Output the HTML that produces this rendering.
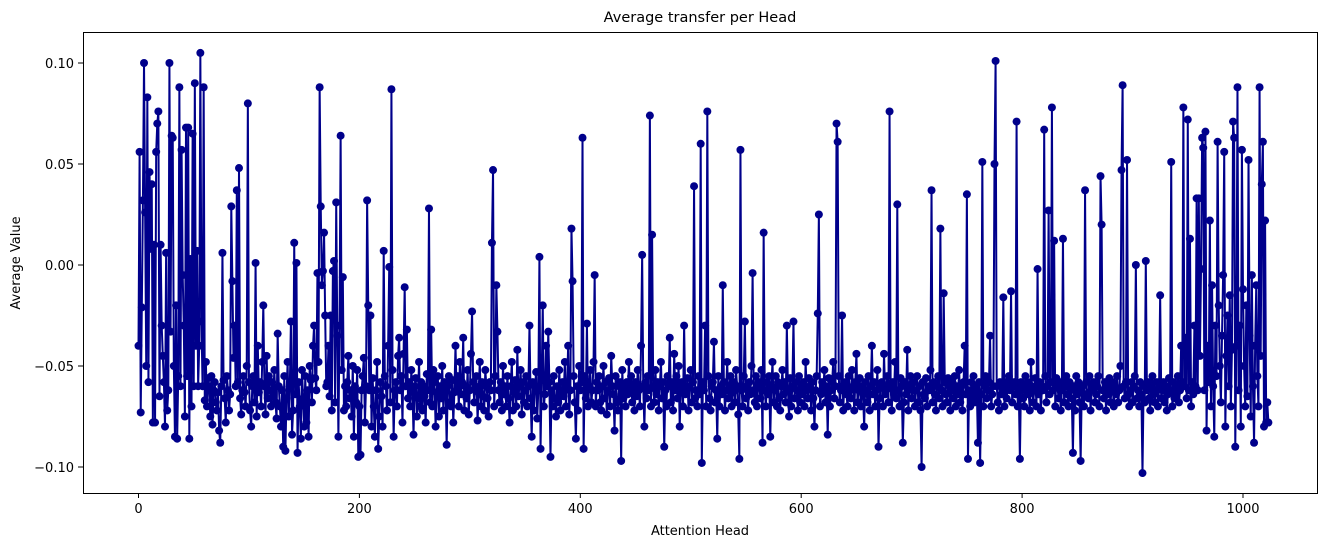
<!DOCTYPE html>
<html><head><meta charset="utf-8"><style>
html,body{margin:0;padding:0;background:#fff;}
svg{display:block;font-family:"DejaVu Sans","Liberation Sans",sans-serif;}
</style></head><body>
<svg id="chart" width="1331" height="547" viewBox="0 0 1331 547" xmlns="http://www.w3.org/2000/svg">
<rect x="0" y="0" width="1331" height="547" fill="#fff"/>
<text x="700" y="22" font-size="14.5" text-anchor="middle" fill="#000">Average transfer per Head</text>
<g id="xticks"></g>
<g id="yticks"></g>
<g id="plot"></g>
<rect x="83.5" y="32.5" width="1234" height="461" fill="none" stroke="#000" stroke-width="1"/>
<text x="700" y="535" font-size="13" text-anchor="middle">Attention Head</text>
<text x="0" y="0" font-size="13" text-anchor="middle" transform="translate(20,263) rotate(-90)">Average Value</text>
</svg>
<script>
const xTicks = [0, 200, 400, 600, 800, 1000];
const yTicks = [0.10, 0.05, 0.00, -0.05, -0.10];
const yTickLabels = ["0.10", "0.05", "0.00", "\u22120.05", "\u22120.10"];
const valuesMilli = [
-40,56,-73,-21,32,100,26,-50,83,-58,46,8,40,-78,10,-78,56,70,76,-65,10,-30,-45,-58,-80,6,-72,-62,100,-33,64,63,
-50,-85,-20,-86,-55,88,-60,57,-5,-30,-75,68,-55,68,-86,3,-70,65,-60,90,-40,7,-60,-40,105,-28,-60,88,-67,-48,-70,-56,
-60,-75,-55,-79,-62,-58,-68,-72,-63,-82,-88,-60,6,-57,-66,-78,-55,-62,-72,-64,29,-8,-46,-30,-60,37,-58,48,-66,-74,-62,-55,
-63,-70,-50,80,-58,-72,-80,-60,-55,-68,1,-75,-40,-63,-58,-70,-48,-20,-60,-74,-45,-66,-55,-62,-70,-58,-65,-52,-68,-76,-34,-60,
-70,-80,-62,-90,-55,-92,-66,-48,-75,-60,-28,-84,-72,11,-64,1,-93,-58,-70,-86,-52,-66,-80,-55,-78,-62,-85,-50,-57,-68,-40,-30,
-56,-62,-4,-48,88,29,-10,-3,16,-25,-60,-58,-40,-65,-25,-72,-3,2,-68,31,-35,-85,-30,64,-52,-6,-72,-60,-70,-58,-45,-66,
-62,-75,-50,-85,-60,-68,-52,-95,-70,-94,-62,-55,-46,-78,-60,32,-20,-62,-25,-80,-56,-70,-85,-62,-48,-91,-75,-58,-65,-80,7,-55,
-60,-72,-40,-1,-68,87,-52,-85,-62,-58,-70,-45,-36,-62,-55,-78,-44,-11,-60,-32,-66,-58,-70,-52,-62,-84,-60,-56,-75,-66,-48,-70,
-58,-72,-60,-65,-78,-54,-62,28,-68,-32,-70,-52,-58,-80,-63,-55,-75,-60,-66,-50,-72,-58,-62,-89,-60,-55,-68,-70,-57,-78,-63,-40,
-62,-55,-70,-48,-64,-58,-36,-72,-60,-66,-52,-74,-62,-44,-23,-58,-68,-60,-55,-77,-63,-48,-70,-58,-65,-72,-52,-60,-66,-75,-58,-62,
11,47,-70,-55,-10,-33,-62,-68,-58,-72,-50,-64,-60,-70,-55,-66,-78,-60,-48,-72,-63,-57,-70,-42,-65,-60,-52,-74,-58,-68,-62,-55,
-70,-60,-30,-66,-85,-58,-72,-60,-53,-76,-62,4,-91,-57,-20,-70,-64,-40,-60,-33,-58,-95,-62,-70,-55,-66,-75,-60,-68,-52,-72,-62,
-58,-65,-48,-70,-60,-40,-74,-62,18,-8,-55,-68,-86,-60,-72,-50,-62,-58,63,-91,-55,-66,-29,-70,-60,-52,-68,-62,-48,-5,-70,-58,
-62,-55,-68,-72,-60,-50,-66,-58,-74,-62,-56,-70,-45,-60,-64,-82,-55,-68,-72,-60,-58,-97,-52,-66,-60,-70,-58,-64,-48,-62,-55,-68,
-60,-72,-58,-65,-52,-62,-70,-40,5,-60,-80,-58,-66,-55,-62,74,-70,15,-60,-68,-52,-64,-58,-72,-60,-48,-66,-58,-90,-62,-70,-55,
-60,-36,-68,-58,-72,-44,-62,-55,-66,-50,-80,-60,-58,-70,-30,-64,-62,-56,-72,-60,-52,-68,-58,39,-66,-62,-70,-55,-64,60,-98,-58,
-62,-30,-70,76,-55,-66,-72,-60,-58,-38,-68,-62,-86,-55,-70,-60,-64,-10,-58,-72,-62,-48,-66,-60,-55,-70,-63,-58,-68,-52,-60,-74,
-96,57,-62,-70,-55,-28,-66,-60,-72,-58,-64,-50,-4,-62,-68,-55,-70,-60,-58,-66,-52,-88,16,-62,-70,-58,-64,-55,-85,-60,-48,-68,
-62,-55,-70,-58,-66,-72,-60,-52,-64,-58,-68,-30,-62,-75,-56,-70,-60,-28,-66,-58,-62,-72,-55,-68,-60,-64,-58,-70,-48,-62,-66,-56,
-60,-72,-58,-66,-80,-62,-55,-24,25,-70,-64,-58,-62,-52,-68,-60,-84,-56,-70,-62,-58,-48,-66,-60,70,61,-55,-68,-62,-25,-72,-60,
-58,-64,-70,-55,-62,-66,-52,-60,-72,-58,-44,-68,-62,-56,-70,-60,-64,-80,-58,-62,-68,-55,-72,-60,-40,-64,-58,-70,-62,-52,-90,-66,
-60,-58,-70,-44,-64,-62,-55,-68,76,-60,-72,-58,-64,-48,-66,30,-62,-70,-56,-60,-88,-68,-58,-64,-42,-72,-60,-55,-66,-62,-58,-70,
-62,-55,-68,-60,-72,-100,-58,-64,-66,-56,-70,-60,-62,-52,37,-68,-58,-64,-72,-60,-55,-66,18,-62,-70,-14,-58,-64,-68,-56,-60,-72,
-62,-58,-66,-55,-70,-60,-64,-52,-68,-60,-72,-58,-40,-64,35,-96,-62,-70,-58,-66,-55,-68,-60,-62,-88,-58,-98,-64,51,-70,-60,-55,
-66,-62,-58,-35,-70,-64,-60,50,101,-60,-68,-72,-58,-64,-62,-16,-70,-58,-66,-60,-55,-62,-13,-68,-60,-58,-64,71,-70,-62,-96,-58,
-60,-66,-70,-55,-62,-58,-64,-72,-48,-60,-68,-62,-56,-70,-2,-64,-58,-72,-60,-62,67,-55,-68,-60,27,-64,-58,78,-62,12,-70,-56,
-60,-66,-58,-72,-62,13,-68,-60,-55,-64,-70,-58,-62,-66,-93,-60,-72,-55,-64,-58,-68,-97,-62,-60,-70,37,-58,-64,-66,-55,-72,-60,
-62,-58,-68,-64,-60,-55,-70,44,20,-62,-66,-58,-72,-60,-64,-56,-68,-62,-58,-70,-60,-64,-55,-68,-62,-50,47,89,-60,-66,-58,52,
-64,-70,-62,-58,-68,-60,-55,0,-66,-62,-70,-58,-64,-103,-60,-68,2,-62,-58,-66,-72,-60,-55,-64,-68,-62,-58,-70,-60,-15,-66,-62,
-58,-68,-60,-72,-64,-56,-62,51,-70,-58,-66,-60,-64,-55,-68,-62,-40,-58,78,-60,-36,-66,72,-62,13,-70,-58,-64,-30,-60,33,-62,
33,-45,-2,63,58,-62,66,-82,-40,-58,22,-70,-10,-60,-85,-30,-55,61,-20,-50,-68,-35,-5,56,-80,-45,-25,-60,-15,-70,-42,71,
63,-90,-40,88,-62,-30,-80,57,-12,-50,-70,-20,-65,52,-35,-75,-5,-60,-88,-40,-10,-55,-70,88,-45,40,61,-80,22,-78,-68,-78
];
const NS = "http://www.w3.org/2000/svg";
const xScale = v => 138.5 + v * 1.1045;
const yScale = v => 265 - v * 2020;
const xg = document.getElementById('xticks');
xTicks.forEach(t => {
  const x = xScale(t);
  const l = document.createElementNS(NS, 'line');
  
  
  l.setAttribute('x1', x); l.setAttribute('x2', x); l.setAttribute('y1', 493); l.setAttribute('y2', 498);
  l.setAttribute('stroke', '#000'); xg.appendChild(l);
  const tx = document.createElementNS(NS, 'text');
  
  
  tx.setAttribute('x', x); tx.setAttribute('y', 513); tx.setAttribute('font-size', '13');
  tx.setAttribute('text-anchor', 'middle'); tx.textContent = String(t); xg.appendChild(tx);
});
const yg = document.getElementById('yticks');
yTicks.forEach((t, i) => {
  const y = yScale(t);
  const l = document.createElementNS(NS, 'line');
  
  
  l.setAttribute('x1', 78); l.setAttribute('x2', 83); l.setAttribute('y1', y); l.setAttribute('y2', y);
  l.setAttribute('stroke', '#000'); yg.appendChild(l);
  const tx = document.createElementNS(NS, 'text');
  
  
  tx.setAttribute('x', 74); tx.setAttribute('y', y + 5); tx.setAttribute('font-size', '13');
  tx.setAttribute('text-anchor', 'end'); tx.textContent = yTickLabels[i]; yg.appendChild(tx);
});
const pg = document.getElementById('plot');
const pts = valuesMilli.map((v, i) => xScale(i).toFixed(2) + ',' + yScale(v / 1000).toFixed(2));
const line = document.createElementNS(NS, 'polyline');


line.setAttribute('points', pts.join(' '));
line.setAttribute('fill', 'none'); line.setAttribute('stroke', '#00008b');
line.setAttribute('stroke-width', '2'); line.setAttribute('stroke-linejoin', 'round');
pg.appendChild(line);
valuesMilli.forEach((v, i) => {
  const c = document.createElementNS(NS, 'circle');
  
  
  c.setAttribute('cx', xScale(i).toFixed(2)); c.setAttribute('cy', yScale(v / 1000).toFixed(2));
  c.setAttribute('r', '4'); c.setAttribute('fill', '#00008b');
  pg.appendChild(c);
});
</script>
</body></html>
